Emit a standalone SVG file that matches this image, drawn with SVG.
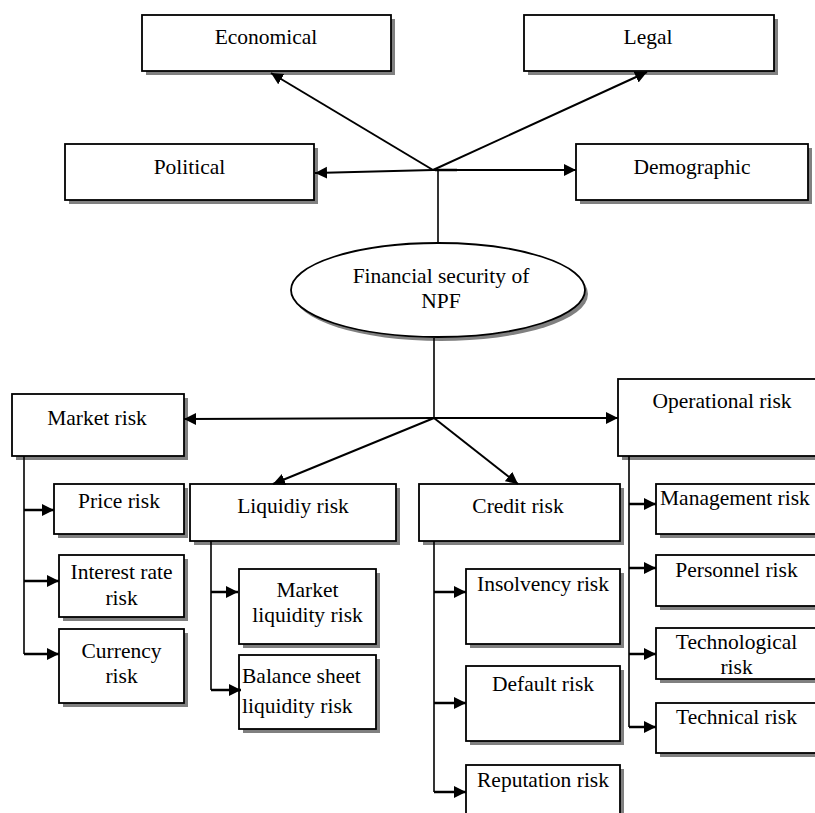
<svg xmlns="http://www.w3.org/2000/svg" width="815" height="813" viewBox="0 0 815 813">
<style>
.sh{fill:#808080;stroke:none}
.bx{fill:#fff;stroke:#000;stroke-width:1.8}
text{font-family:"Liberation Serif","Times New Roman",serif;font-size:21.5px;fill:#000;text-anchor:middle}
.l{text-anchor:start}
.ln{stroke:#000;stroke-width:2;fill:none}
.st{stroke:#000;stroke-width:2.5;fill:none}
.tn{stroke:#000;stroke-width:1.6;fill:none}
.ar{marker-end:url(#ah)}
</style>
<defs>
<marker id="ah" markerUnits="userSpaceOnUse" markerWidth="13" markerHeight="13" refX="12" refY="6" orient="auto">
<path d="M0,0 L12,6 L0,12 z" fill="#000"/>
</marker>
</defs>
<rect width="815" height="813" fill="#fff"/>

<g id="economical"><rect class="sh" x="146" y="19" width="249" height="56"/><rect class="bx" x="142" y="15" width="249" height="56"/><text x="266" y="44">Economical</text></g>
<g id="legal"><rect class="sh" x="528" y="19" width="250" height="56"/><rect class="bx" x="524" y="15" width="250" height="56"/><text x="648" y="44">Legal</text></g>
<g id="political"><rect class="sh" x="69" y="148" width="249" height="56"/><rect class="bx" x="65" y="144" width="249" height="56"/><text x="189.5" y="174">Political</text></g>
<g id="demographic"><rect class="sh" x="580" y="148" width="232" height="56"/><rect class="bx" x="576" y="144" width="232" height="56"/><text x="692" y="174">Demographic</text></g>

<g id="npf"><ellipse class="sh" cx="441" cy="294" rx="147" ry="47"/><ellipse class="bx" cx="438" cy="290" rx="147" ry="47"/><text x="441" y="283">Financial security of</text><text x="441" y="308">NPF</text></g>

<g id="market"><rect class="sh" x="16" y="398" width="172" height="62"/><rect class="bx" x="12" y="394" width="172" height="62"/><text x="97" y="425">Market risk</text></g>
<g id="operational"><rect class="sh" x="622" y="383" width="200" height="77"/><rect class="bx" x="618" y="379" width="200" height="77"/><text x="722" y="408">Operational risk</text></g>
<g id="price"><rect class="sh" x="58" y="488" width="130" height="50"/><rect class="bx" x="54" y="484" width="130" height="50"/><text x="119" y="508">Price risk</text></g>
<g id="liquidity"><rect class="sh" x="194" y="488" width="206" height="57"/><rect class="bx" x="190" y="484" width="206" height="57"/><text x="293" y="513">Liquidiy risk</text></g>
<g id="credit"><rect class="sh" x="423" y="488" width="201" height="57"/><rect class="bx" x="419" y="484" width="201" height="57"/><text x="518" y="513">Credit risk</text></g>
<g id="management"><rect class="sh" x="660" y="488" width="165" height="50"/><rect class="bx" x="656" y="484" width="165" height="50"/><text class="l" x="660" y="505">Management risk</text></g>

<g id="interest"><rect class="sh" x="63" y="559" width="125" height="62"/><rect class="bx" x="59" y="555" width="125" height="62"/><text x="121.5" y="579">Interest rate</text><text x="121.5" y="605">risk</text></g>
<g id="currency"><rect class="sh" x="63" y="633" width="125" height="74"/><rect class="bx" x="59" y="629" width="125" height="74"/><text x="121.5" y="658">Currency</text><text x="121.5" y="683">risk</text></g>

<g id="mliq"><rect class="sh" x="243" y="573" width="137" height="75"/><rect class="bx" x="239" y="569" width="137" height="75"/><text x="307.5" y="597">Market</text><text x="307.5" y="622">liquidity risk</text></g>
<g id="bliq"><rect class="sh" x="243" y="659" width="137" height="74"/><rect class="bx" x="239" y="655" width="137" height="74"/><text class="l" x="242" y="683">Balance sheet</text><text class="l" x="242" y="713">liquidity risk</text></g>

<g id="insolvency"><rect class="sh" x="470" y="573" width="154" height="75"/><rect class="bx" x="466" y="569" width="154" height="75"/><text x="543" y="591">Insolvency risk</text></g>
<g id="default"><rect class="sh" x="470" y="670" width="154" height="75"/><rect class="bx" x="466" y="666" width="154" height="75"/><text x="543" y="691">Default risk</text></g>
<g id="reputation"><rect class="sh" x="470" y="769" width="154" height="60"/><rect class="bx" x="466" y="765" width="154" height="60"/><text x="543" y="787">Reputation risk</text></g>

<g id="personnel"><rect class="sh" x="660" y="559" width="165" height="51"/><rect class="bx" x="656" y="555" width="165" height="51"/><text x="736.5" y="577">Personnel risk</text></g>
<g id="technological"><rect class="sh" x="660" y="632" width="165" height="51"/><rect class="bx" x="656" y="628" width="165" height="51"/><text x="736.5" y="649">Technological</text><text x="736.5" y="674">risk</text></g>
<g id="technical"><rect class="sh" x="660" y="707" width="165" height="50"/><rect class="bx" x="656" y="703" width="165" height="50"/><text x="736.5" y="724">Technical risk</text></g>

<g id="connectors">
<line class="ln ar" x1="433" y1="170" x2="271" y2="73"/>
<line class="ln ar" x1="433" y1="170" x2="647" y2="72"/>
<line class="ln ar" x1="433" y1="170" x2="315" y2="173"/>
<line class="ln ar" x1="433" y1="170" x2="576" y2="170"/>
<line class="st" x1="435" y1="170" x2="457" y2="170"/>
<line class="tn" x1="438" y1="170" x2="438" y2="243"/>

<line class="tn" x1="434" y1="338" x2="434" y2="418"/>
<line class="ln ar" x1="434" y1="418" x2="184" y2="419"/>
<line class="ln ar" x1="434" y1="418" x2="618" y2="418"/>
<line class="ln ar" x1="434" y1="418" x2="273" y2="484"/>
<line class="ln ar" x1="434" y1="418" x2="518" y2="484"/>

<line class="tn" x1="24" y1="456" x2="24" y2="654"/>
<line class="st ar" x1="24" y1="510" x2="54" y2="510"/>
<line class="st ar" x1="24" y1="581" x2="59" y2="581"/>
<line class="st ar" x1="24" y1="654" x2="59" y2="654"/>

<line class="tn" x1="211" y1="541" x2="211" y2="690"/>
<line class="st ar" x1="211" y1="592" x2="238" y2="592"/>
<line class="st ar" x1="211" y1="690" x2="241" y2="690"/>

<line class="tn" x1="434" y1="541" x2="434" y2="792"/>
<line class="st ar" x1="434" y1="592" x2="466" y2="592"/>
<line class="st ar" x1="434" y1="703" x2="466" y2="703"/>
<line class="st ar" x1="434" y1="792" x2="466" y2="792"/>

<line class="tn" x1="629" y1="456" x2="629" y2="727"/>
<line class="st ar" x1="629" y1="504" x2="656" y2="504"/>
<line class="st ar" x1="629" y1="568" x2="656" y2="568"/>
<line class="st ar" x1="629" y1="654" x2="656" y2="654"/>
<line class="st ar" x1="629" y1="727" x2="656" y2="727"/>
</g>
</svg>
